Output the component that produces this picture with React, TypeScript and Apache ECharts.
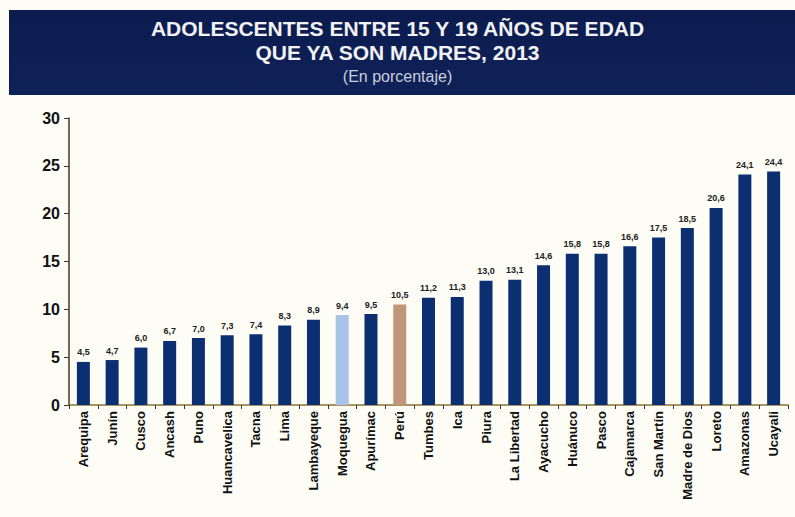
import React, { useEffect, useRef } from "react";
import * as echarts from "echarts";

const categories = [
  "Arequipa", "Junín", "Cusco", "Ancash", "Puno", "Huancavelica", "Tacna", "Lima",
  "Lambayeque", "Moquegua", "Apurímac", "Perú", "Tumbes", "Ica", "Piura", "La Libertad",
  "Ayacucho", "Huánuco", "Pasco", "Cajamarca", "San Martín", "Madre de Dios", "Loreto",
  "Amazonas", "Ucayali",
];
const values = [
  4.5, 4.7, 6.0, 6.7, 7.0, 7.3, 7.4, 8.3, 8.9, 9.4, 9.5, 10.5, 11.2, 11.3, 13.0, 13.1,
  14.6, 15.8, 15.8, 16.6, 17.5, 18.5, 20.6, 24.1, 24.4,
];
const yTicks = [0, 5, 10, 15, 20, 25, 30];
const titleLines = ["ADOLESCENTES ENTRE 15 Y 19 AÑOS DE EDAD", "QUE YA SON MADRES, 2013"];
const subtitle = "(En porcentaje)";

const barColor = "#0c2f72";
const highlight: Record<string, string> = { Moquegua: "#a8c3e8", "Perú": "#c09579" };

export default function App() {
  const ref = useRef<HTMLDivElement>(null);
  useEffect(() => {
    document.body.style.margin = "0";
    const chart = echarts.init(ref.current!, null, { renderer: "svg" });
    chart.setOption({
      animation: false,
      backgroundColor: "#fdfcf5",
      title: {
        text: titleLines.join("\n"),
        subtext: subtitle,
        left: "center",
        top: 11,
        itemGap: 4,
        textStyle: {
          color: "#f2f2f4",
          fontFamily: "Liberation Sans, Arial, sans-serif",
          fontWeight: "bold",
          fontSize: 21,
          lineHeight: 24,
        },
        subtextStyle: {
          color: "#c9cedc",
          fontFamily: "Liberation Sans, Arial, sans-serif",
          fontSize: 16,
        },
        z: 10,
      },
      graphic: [
        {
          type: "rect",
          shape: { x: 9, y: 10, width: 786, height: 85 },
          style: {
            fill: new echarts.graphic.LinearGradient(0, 0, 0, 1, [
              { offset: 0, color: "#0b1b4e" },
              { offset: 1, color: "#0f2258" },
            ]),
          },
          z: -1,
        },
      ],
      grid: { left: 69, right: 7, top: 118, bottom: 112, containLabel: false },
      xAxis: {
        type: "category",
        data: categories,
        axisLine: { lineStyle: { color: "#8a7432", width: 1.5 } },
        axisTick: { show: true, alignWithLabel: false, length: 4, lineStyle: { color: "#333" } },
        axisLabel: {
          rotate: 90,
          interval: 0,
          margin: 6,
          color: "#111",
          fontFamily: "Liberation Sans, Arial, sans-serif",
          fontWeight: "bold",
          fontSize: 13,
        },
      },
      yAxis: {
        type: "value",
        min: yTicks[0],
        max: yTicks[yTicks.length - 1],
        interval: 5,
        splitLine: { show: false },
        axisLine: { show: true, lineStyle: { color: "#4a3420", width: 1.5 } },
        axisTick: { show: true, length: 5, lineStyle: { color: "#4a3420" } },
        axisLabel: {
          margin: 9,
          color: "#111",
          fontFamily: "Liberation Sans, Arial, sans-serif",
          fontWeight: "bold",
          fontSize: 16,
        },
      },
      series: [
        {
          type: "bar",
          barWidth: 13,
          data: categories.map((c, i) => ({
            value: values[i],
            itemStyle: { color: highlight[c] || barColor },
          })),
          label: {
            show: true,
            position: "top",
            distance: 5,
            color: "#222",
            fontFamily: "Liberation Sans, Arial, sans-serif",
            fontWeight: "bold",
            fontSize: 9,
            formatter: (p: any) => p.value.toFixed(1).replace(".", ","),
          },
        },
      ],
    });
    return () => chart.dispose();
  }, []);
  return <div ref={ref} style={{ width: 795, height: 517 }} />;
}
